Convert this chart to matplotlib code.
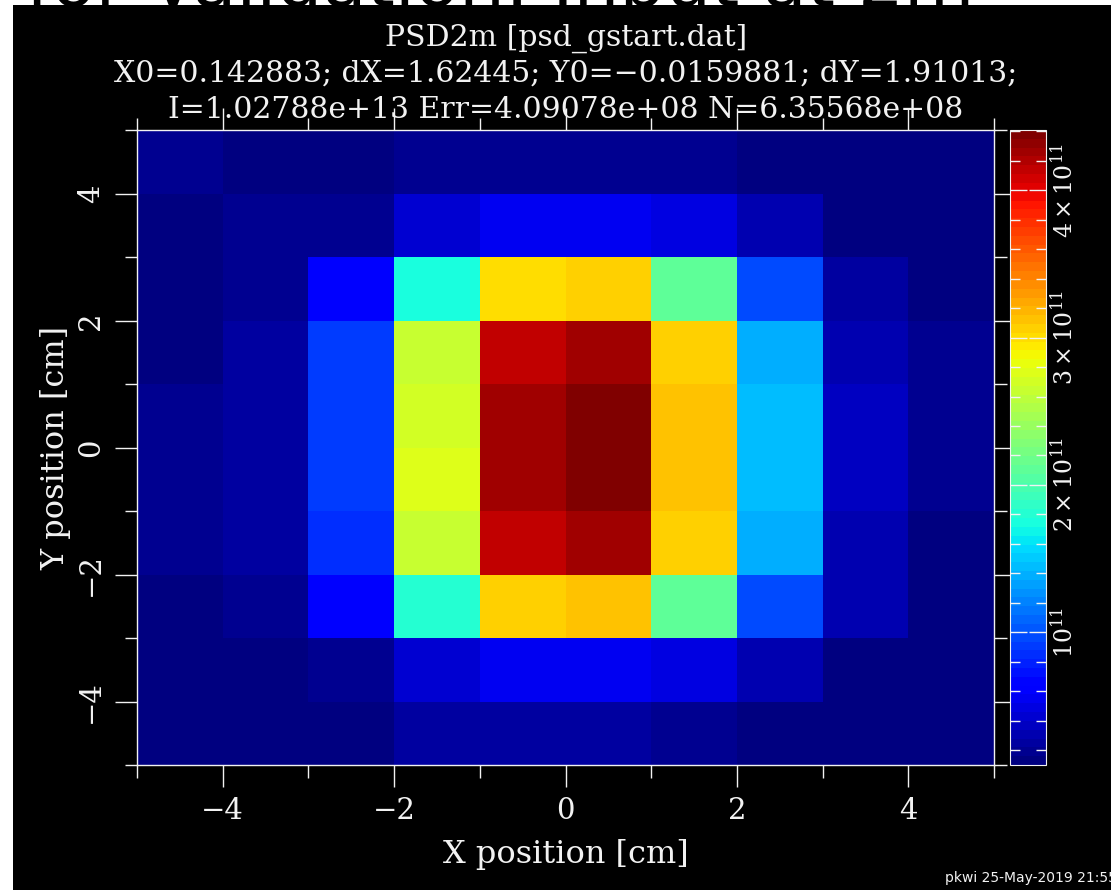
import numpy as np
import matplotlib.pyplot as plt
from matplotlib.patches import Rectangle
from matplotlib.ticker import MultipleLocator

# === Data: 10x10 bins of 1 cm, intensity in units of 1e11 ===
x_edges = np.arange(-5, 6, 1)
y_edges = np.arange(-5, 6, 1)

# rows listed from bottom (y=-4.5) to top (y=4.5), columns x=-4.5 .. 4.5
row_y_m45 = [0.10, 0.15, 0.12, 0.22, 0.24, 0.22, 0.20, 0.12, 0.13, 0.10]
row_y_m35 = [0.10, 0.13, 0.18, 0.40, 0.55, 0.55, 0.46, 0.28, 0.12, 0.13]
row_y_m25 = [0.10, 0.20, 0.60, 1.82, 3.07, 3.12, 2.13, 0.96, 0.28, 0.15]
row_y_m15 = [0.17, 0.22, 0.85, 2.64, 4.17, 4.28, 3.07, 1.39, 0.33, 0.15]
row_y_m05 = [0.17, 0.22, 0.93, 2.75, 4.27, 4.41, 3.15, 1.47, 0.35, 0.16]
row_y_p05 = [0.17, 0.22, 0.92, 2.73, 4.28, 4.41, 3.14, 1.46, 0.35, 0.17]
row_y_p15 = [0.15, 0.22, 0.89, 2.64, 4.17, 4.28, 3.07, 1.39, 0.33, 0.17]
row_y_p25 = [0.10, 0.20, 0.60, 1.72, 2.99, 3.05, 2.13, 0.96, 0.26, 0.15]
row_y_p35 = [0.11, 0.18, 0.20, 0.40, 0.52, 0.53, 0.46, 0.28, 0.15, 0.10]
row_y_p45 = [0.17, 0.10, 0.15, 0.17, 0.20, 0.20, 0.17, 0.12, 0.10, 0.11]

cbar_ticks = [1e11, 2e11, 3e11, 4e11]
cbar_labels = [r"$10^{11}$", r"$2\times10^{11}$", r"$3\times10^{11}$", r"$4\times10^{11}$"]
vmin, vmax = 0.098e11, 4.41e11

title_lines = ["PSD2m [psd_gstart.dat]",
               "X0=0.142883; dX=1.62445; Y0=\u22120.0159881; dY=1.91013;",
               "I=1.02788e+13 Err=4.09078e+08 N=6.35568e+08"]

Z = np.array([row_y_m45, row_y_m35, row_y_m25, row_y_m15, row_y_m05,
              row_y_p05, row_y_p15, row_y_p25, row_y_p35, row_y_p45]) * 1e11

# === Plot ===
plt.rcParams['font.family'] = ['DejaVu Serif']
plt.rcParams['mathtext.fontset'] = 'dejavuserif'
plt.rcParams['axes.unicode_minus'] = True

W, H = 1111, 890
fig = plt.figure(figsize=(W / 100, H / 100), dpi=100, facecolor='white')
fg = '#f2f2f2'

# cut-off slide heading behind the black plot window (only its lower edge shows)
fig.text(0.45, 1 - 6 / H, "for Validation: Input at 2m", fontsize=52, family='DejaVu Sans',
         ha='center', va='baseline', color='black', zorder=-2)
fig.add_artist(Rectangle((13 / W, 0), 1 - 13 / W, 1 - 5 / H, transform=fig.transFigure,
                         facecolor='black', edgecolor='none', zorder=-1))

ax = fig.add_axes([137 / W, 1 - 765 / H, 857 / W, 635 / H])
cmap = plt.get_cmap('jet', 72)
mesh = ax.pcolormesh(x_edges, y_edges, Z, cmap=cmap, vmin=vmin, vmax=vmax)
ax.set_xlim(-5, 5)
ax.set_ylim(-5, 5)
ax.set_facecolor('black')
for s in ax.spines.values():
    s.set_color(fg)
    s.set_linewidth(1)
ax.xaxis.set_major_locator(MultipleLocator(2))
ax.xaxis.set_minor_locator(MultipleLocator(1))
ax.yaxis.set_major_locator(MultipleLocator(2))
ax.yaxis.set_minor_locator(MultipleLocator(1))
ax.tick_params(which='both', direction='out', colors=fg, top=True, right=True, width=1)
ax.tick_params(which='major', length=16, labelsize=21, pad=7)
ax.tick_params(which='minor', length=9)
ax.tick_params(axis='y', labelrotation=90)
for lbl in ax.get_yticklabels():
    lbl.set_va('center')
ax.set_xlabel("X position [cm]", fontsize=23, color=fg, labelpad=10)
ax.set_ylabel("Y position [cm]", fontsize=23, color=fg, labelpad=4)

cax = fig.add_axes([1010 / W, 1 - 765 / H, 36 / W, 635 / H])
cbar = fig.colorbar(mesh, cax=cax)
cbar.outline.set_edgecolor(fg)
cbar.set_ticks(cbar_ticks)
cbar.set_ticklabels(cbar_labels)
cax.yaxis.set_minor_locator(MultipleLocator(0.2e11))
cax.tick_params(which='both', direction='in', left=True, right=True, colors=fg, width=1)
cax.tick_params(which='major', length=12, labelsize=17, pad=4)
cax.tick_params(which='minor', length=7)
for lbl in cax.get_yticklabels():
    lbl.set_rotation(90)
    lbl.set_va('center')

for i, line in enumerate(title_lines):
    fig.text(566 / W, 1 - (38 + 36 * i) / H, line, fontsize=21.5, color=fg,
             ha='center', va='center')

fig.text(945 / W, 1 - 878 / H, "pkwi 25-May-2019 21:55", fontsize=10,
         family='DejaVu Sans', color=fg, va='center')

plt.savefig("out.png", dpi=100, facecolor=fig.get_facecolor())
